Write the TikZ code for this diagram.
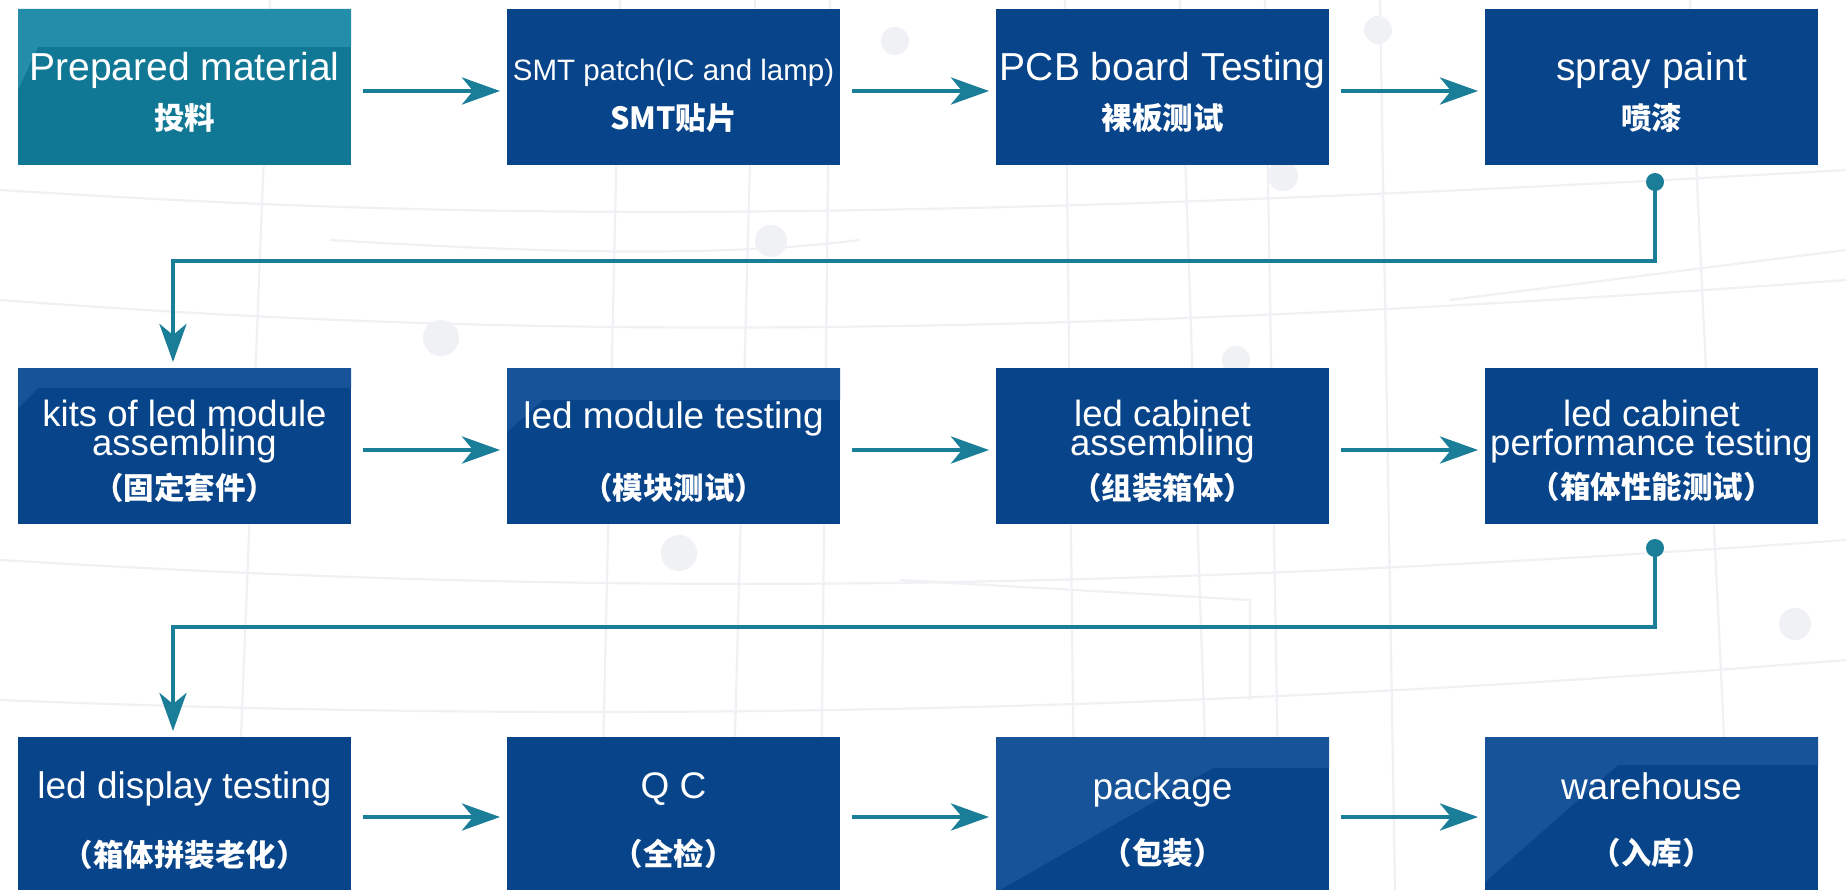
\documentclass[tikz,border=0pt]{standalone}
\usepackage{fontspec}
\setmainfont{Liberation Sans}
\newfontfamily\cjk{Noto Sans CJK SC}
\usetikzlibrary{arrows.meta,calc}
\definecolor{boxblue}{RGB}{8,68,138}
\definecolor{boxlight}{RGB}{22,83,152}
\definecolor{boxteal}{RGB}{16,120,148}
\definecolor{teallight}{RGB}{36,142,170}
\definecolor{flow}{RGB}{26,126,152}
\definecolor{bgline}{RGB}{240,241,244}
\newcommand\mytightlines{\lineskiplimit=-60pt\relax\lineskip=0pt\relax}
\begin{document}
\begin{tikzpicture}[x=1pt,y=-1pt,
  box/.style={draw=none, fill=boxblue, minimum width=333pt, minimum height=156pt, inner sep=0pt, outer sep=0pt, anchor=north west},
  entxt/.style={text=white, anchor=base, inner sep=0pt, font=\fontsize{37}{37}\selectfont},
  twotxt/.style={text=white, anchor=north, inner sep=0pt, align=center, font={\fontsize{36.5}{29}\selectfont\mytightlines}},
  bigtxt/.style={text=white, anchor=base, inner sep=0pt, font=\fontsize{39}{39}\selectfont},
  cntxt/.style={text=white, anchor=center, inner sep=0pt, font=\cjk\bfseries\fontsize{30.5}{30.5}\selectfont},
  flowline/.style={draw=flow, line width=4.5pt},
  flowarrow/.style={flowline, -{Stealth[length=38pt, width=27pt, inset=11pt]}},
  bg/.style={draw=bgline, line width=2.2pt},
  bgdot/.style={fill=bgline}
]
\clip (0,0) rectangle (1846,890);
\fill[white] (0,0) rectangle (1846,890);

% faint background circuit pattern
\draw[bg] (270,0) -- (235,890);
\draw[bg] (620,0) -- (600,890);
\draw[bg] (755,0) .. controls (745,300) and (740,600) .. (730,890);
\draw[bg] (830,0) -- (820,890);
\draw[bg] (1065,0) -- (1075,890);
\draw[bg] (1180,0) .. controls (1190,300) and (1200,600) .. (1210,890);
\draw[bg] (1265,0) -- (1280,890);
\draw[bg] (1380,0) -- (1395,890);
\draw[bg] (1690,0) .. controls (1700,300) and (1720,600) .. (1730,890);
\draw[bg] (0,190) .. controls (400,215) and (800,230) .. (1846,170);
\draw[bg] (0,300) .. controls (400,330) and (900,350) .. (1846,280);
\draw[bg] (0,560) .. controls (500,590) and (1000,600) .. (1846,540);
\draw[bg] (0,700) .. controls (500,720) and (1100,720) .. (1846,660);
\draw[bg] (330,240) .. controls (500,250) and (700,260) .. (860,240);
\draw[bg] (900,580) -- (1250,600) -- (1250,700);
\draw[bg] (1450,300) -- (1846,250);
\fill[bgdot] (771,241) circle[radius=16pt];
\fill[bgdot] (441,338) circle[radius=18pt];
\fill[bgdot] (679,553) circle[radius=18pt];
\fill[bgdot] (1283,176) circle[radius=15pt];
\fill[bgdot] (1795,624) circle[radius=16pt];
\fill[bgdot] (1236,360) circle[radius=14pt];
\fill[bgdot] (895,41) circle[radius=14pt];
\fill[bgdot] (1378,30) circle[radius=14pt];

% boxes
\node[box, fill=boxteal] (b1) at (18,9) {};
\node[box] (b2) at (507,9) {};
\node[box] (b3) at (996,9) {};
\node[box] (b4) at (1485,9) {};
\node[box] (b5) at (18,368) {};
\node[box] (b6) at (507,368) {};
\node[box] (b7) at (996,368) {};
\node[box] (b8) at (1485,368) {};
\node[box] (b9) at (18,737) {};
\node[box] (b10) at (507,737) {};
\node[box] (b11) at (996,737) {};
\node[box] (b12) at (1485,737) {};

% shines
\fill[teallight] (b1.north west) -- (b1.north east) -- ++(0,38) -- ($(b1.north west)+(20,38)$) -- ($(b1.north west)+(0,81)$) -- cycle;
\fill[boxlight] (b5.north west) -- (b5.north east) -- ++(0,20) -- ($(b5.north west)+(20,20)$) -- ($(b5.north west)+(0,40)$) -- cycle;
\fill[boxlight] (b6.north west) -- (b6.north east) -- ++(0,32) -- ($(b6.north west)+(36,32)$) -- ($(b6.north west)+(0,64)$) -- cycle;
\fill[boxlight] (b11.north west) -- (b11.north east) -- ++(0,31) -- ($(b11.north west)+(217,31)$) -- ($(b11.north west)+(4,153)$) -- ($(b11.north west)+(0,153)$) -- cycle;
\fill[boxlight] (b12.north west) -- (b12.north east) -- ++(0,28) -- ($(b12.north west)+(133,28)$) -- ($(b12.north west)+(0,145)$) -- cycle;

% texts row 1
\node[bigtxt] (t1a) at (184.5,81) {Prepared material};
\node[cntxt] (t1b) at (184.5,118) {投料};
\node[text=white, anchor=base, inner sep=0pt, font=\fontsize{29.5}{29.5}\selectfont] (t2a) at (673.5,81) {SMT patch(IC and lamp)};
\node[cntxt] (t2b) at (673.5,118) {SMT贴片};
\node[bigtxt] (t3a) at (1162.5,81) {PCB board Testing};
\node[cntxt] (t3b) at (1162.5,118) {裸板测试};
\node[bigtxt] (t4a) at (1651.5,81) {spray paint};
\node[cntxt] (t4b) at (1651.5,118) {喷漆};

% texts row 2
\node[twotxt] (t5a) at (184.5,400) {kits of led module\\assembling};
\node[cntxt] (t5c) at (184.5,488) {（固定套件）};
\node[entxt] (t6a) at (673.5,428) {led module testing};
\node[cntxt] (t6b) at (673.5,488) {（模块测试）};
\node[twotxt] (t7a) at (1162.5,400) {led cabinet\\assembling};
\node[cntxt] (t7c) at (1162.5,488) {（组装箱体）};
\node[twotxt] (t8a) at (1651.5,400) {led cabinet\\performance testing};
\node[cntxt] (t8c) at (1651.5,487) {（箱体性能测试）};

% texts row 3
\node[entxt] (t9a) at (184.5,798) {led display testing};
\node[cntxt] (t9b) at (184.5,855) {（箱体拼装老化）};
\node[entxt] (t10a) at (673.5,798) {Q C};
\node[cntxt] (t10b) at (673.5,854) {（全检）};
\node[entxt] (t11a) at (1162.5,799) {package};
\node[cntxt] (t11b) at (1162.5,853) {（包装）};
\node[entxt] (t12a) at (1651.5,799) {warehouse};
\node[cntxt] (t12b) at (1651.5,853) {（入库）};

% horizontal arrows
\draw[flowarrow] ([xshift=12pt,yshift=-4pt]b1.east) -- ([xshift=-7pt,yshift=-4pt]b2.west);
\draw[flowarrow] ([xshift=12pt,yshift=-4pt]b2.east) -- ([xshift=-7pt,yshift=-4pt]b3.west);
\draw[flowarrow] ([xshift=12pt,yshift=-4pt]b3.east) -- ([xshift=-7pt,yshift=-4pt]b4.west);
\draw[flowarrow] ([xshift=12pt,yshift=-4pt]b5.east) -- ([xshift=-7pt,yshift=-4pt]b6.west);
\draw[flowarrow] ([xshift=12pt,yshift=-4pt]b6.east) -- ([xshift=-7pt,yshift=-4pt]b7.west);
\draw[flowarrow] ([xshift=12pt,yshift=-4pt]b7.east) -- ([xshift=-7pt,yshift=-4pt]b8.west);
\draw[flowarrow] ([xshift=12pt,yshift=-2pt]b9.east) -- ([xshift=-7pt,yshift=-2pt]b10.west);
\draw[flowarrow] ([xshift=12pt,yshift=-2pt]b10.east) -- ([xshift=-7pt,yshift=-2pt]b11.west);
\draw[flowarrow] ([xshift=12pt,yshift=-2pt]b11.east) -- ([xshift=-7pt,yshift=-2pt]b12.west);

% return connectors
\coordinate (d1) at ($(b4.south)+(3.5,17)$);
\coordinate (k1) at (1655,261);
\coordinate (k2) at (173,261);
\draw[flowarrow] (d1) -- (k1) -- (k2) -- ([xshift=-11.5pt,yshift=6pt]b5.north);
\fill[flow] (d1) circle[radius=9pt];

\coordinate (d2) at ($(b8.south)+(3.5,24)$);
\coordinate (k3) at (1655,627);
\coordinate (k4) at (173,627);
\draw[flowarrow] (d2) -- (k3) -- (k4) -- ([xshift=-11.5pt,yshift=6pt]b9.north);
\fill[flow] (d2) circle[radius=9pt];
\end{tikzpicture}
\end{document}
